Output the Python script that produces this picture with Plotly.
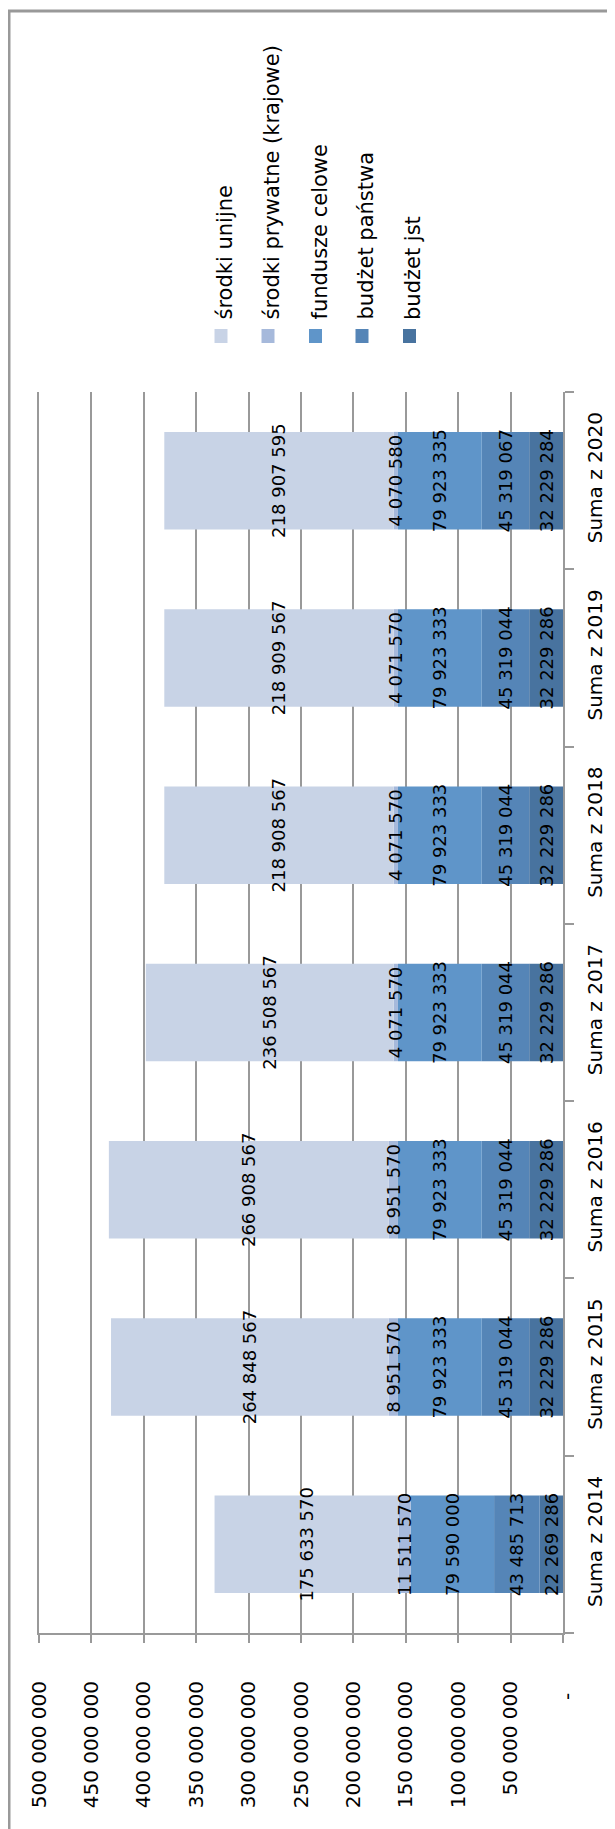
import plotly.graph_objects as go

# data
categories = ['Suma z 2014', 'Suma z 2015', 'Suma z 2016', 'Suma z 2017',
              'Suma z 2018', 'Suma z 2019', 'Suma z 2020']

budzet_jst = [22269286, 32229286, 32229286, 32229286, 32229286, 32229286, 32229284]
budzet_panstwa = [43485713, 45319044, 45319044, 45319044, 45319044, 45319044, 45319067]
fundusze_celowe = [79590000, 79923333, 79923333, 79923333, 79923333, 79923333, 79923335]
srodki_prywatne = [11511570, 8951570, 8951570, 4071570, 4071570, 4071570, 4070580]
srodki_unijne = [175633570, 264848567, 266908567, 236508567, 218908567, 218909567, 218907595]

series_names = ['budżet jst', 'budżet państwa', 'fundusze celowe',
                'środki prywatne (krajowe)', 'środki unijne']
series_values = [budzet_jst, budzet_panstwa, fundusze_celowe, srodki_prywatne, srodki_unijne]
series_colors = ['#48739F', '#5585B7', '#5F95C9', '#A6B9DB', '#C8D3E6']

tick_values = [0, 50000000, 100000000, 150000000, 200000000, 250000000,
               300000000, 350000000, 400000000, 450000000, 500000000]

FONT = 'DejaVu Sans'
GRAY = '#999999'

# page body has an 8px margin, so the figure is 8px smaller each way
OFF = 8
W, H = 615 - OFF, 1829 - OFF
L, R, T, B = 31, 52, 384, 196


def fmt(v):
    return f'{v:,}'.replace(',', ' ')


# screen pixel -> paper coordinates
def px_x(px):
    return (px - OFF - L) / (W - L - R)


def px_y(py):
    return (H - B - (py - OFF)) / (H - T - B)


# stacking done by hand (overlay + base) so that all labels sit above all bars
bases = []
running = [0] * len(categories)
for vals in series_values:
    bases.append(list(running))
    running = [r + v for r, v in zip(running, vals)]

fig = go.Figure()
for name, vals, base, col in zip(series_names, series_values, bases, series_colors):
    fig.add_trace(go.Bar(
        y=categories, x=vals, base=base, name=name, orientation='h',
        marker=dict(color=col, line=dict(width=0)), showlegend=False,
    ))
for name, vals, base in zip(series_names, series_values, bases):
    fig.add_trace(go.Bar(
        y=categories, x=vals, base=base, name=name, orientation='h',
        marker=dict(color='rgba(0,0,0,0)', line=dict(width=0)),
        text=[fmt(v) for v in vals], textposition='inside',
        insidetextanchor='middle', textangle=-90, constraintext='none',
        textfont=dict(family=FONT, size=18, color='black'),
        showlegend=False, hoverinfo='skip',
    ))

tick_text = ['' if v == 0 else fmt(v) for v in tick_values]

fig.update_layout(
    width=W, height=H, barmode='overlay', bargap=0.45,
    margin=dict(l=L, r=R, t=T, b=B, autoexpand=False),
    paper_bgcolor='white', plot_bgcolor='white',
    font=dict(family=FONT, size=20, color='black'),
    xaxis=dict(range=[500000000, 0], tickvals=tick_values, ticktext=tick_text,
               tickangle=-90, showgrid=True, gridcolor=GRAY, gridwidth=2,
               showline=True, linecolor=GRAY, linewidth=2, zeroline=False,
               ticks='outside', ticklen=8, tickwidth=2, tickcolor=GRAY,
               ticklabelstandoff=30, tickfont=dict(size=20), automargin=False),
    yaxis=dict(side='right', tickangle=-90, showgrid=False, range=[-0.5, 6.5],
               showline=True, linecolor=GRAY, linewidth=2, mirror=True,
               ticks='outside', tickson='boundaries', ticklen=9,
               tickwidth=2, tickcolor=GRAY, ticklabelstandoff=13,
               tickfont=dict(size=20), automargin=False),
)

# accounting-style "-" for the zero tick
fig.add_annotation(x=0, xref='x', y=px_y(1697), yref='paper', text='-',
                   textangle=-90, showarrow=False, xanchor='center', yanchor='middle',
                   xshift=4, font=dict(family=FONT, size=20, color='black'))

# chart area frame
fig.add_shape(type='rect', xref='paper', yref='paper',
              x0=px_x(9), x1=px_x(700), y0=px_y(1900), y1=px_y(11),
              line=dict(color=GRAY, width=3), fillcolor='rgba(0,0,0,0)')

# legend drawn by hand so the labels can be rotated like the chart
legend_x = [221, 268, 315.5, 362, 409.5]
for cx, name, col in zip(legend_x, series_names[::-1], series_colors[::-1]):
    fig.add_shape(type='rect', xref='paper', yref='paper',
                  x0=px_x(cx - 6.5), x1=px_x(cx + 6.5), y0=px_y(343), y1=px_y(329),
                  line=dict(width=0), fillcolor=col)
    fig.add_annotation(x=px_x(cx + 3.5), y=px_y(322), xref='paper', yref='paper',
                       text=name, textangle=-90, showarrow=False,
                       xanchor='center', yanchor='bottom',
                       font=dict(family=FONT, size=21, color='black'))

fig.write_html('out.html')
